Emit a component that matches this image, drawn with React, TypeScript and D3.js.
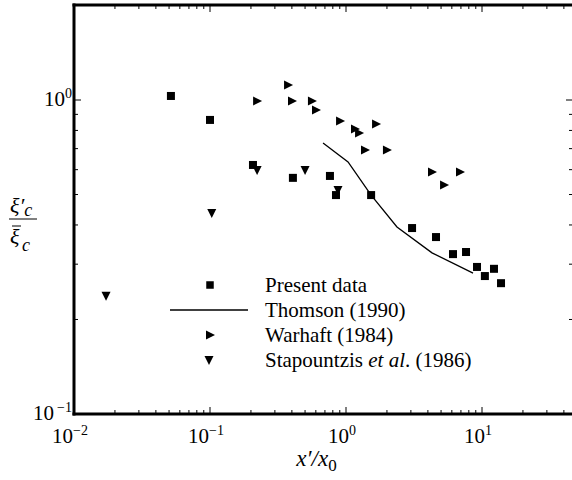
import React from "react";
import * as d3 from "d3";

const presentX = [0.0516, 0.1, 0.207, 0.407, 0.762, 0.844, 1.53, 3.06, 4.59, 6.12, 7.63, 9.19, 10.5, 12.25, 13.8];
const presentY = [1.03, 0.864, 0.621, 0.565, 0.573, 0.498, 0.498, 0.391, 0.366, 0.323, 0.328, 0.294, 0.275, 0.29, 0.261];

const thomsonX = [0.678, 1.035, 1.53, 2.37, 4.29, 8.59];
const thomsonY = [0.73, 0.635, 0.498, 0.394, 0.326, 0.281];

const warhaftX = [0.375, 0.222, 0.401, 0.562, 0.602, 0.904, 1.165, 1.247, 1.663, 1.379, 2.0, 4.29, 6.89, 5.26];
const warhaftY = [1.116, 0.993, 0.993, 0.993, 0.929, 0.857, 0.808, 0.785, 0.839, 0.693, 0.693, 0.59, 0.59, 0.536];

const stapX = [0.0172, 0.103, 0.222, 0.5, 0.873];
const stapY = [0.238, 0.437, 0.598, 0.598, 0.517];

const xMajor = [0.01, 0.1, 1, 10];
const xMajorExp = ["−2", "−1", "0", "1"];
const yMajor = [0.1, 1];
const yMajorExp = ["−1", "0"];

const legendLabels = ["Present data", "Thomson (1990)", "Warhaft (1984)", "Stapountzis et al. (1986)"];

const L = 74, R = 573, T = 5, B = 414;
const FONT = '"Liberation Serif", "Times New Roman", Times, serif';

export default function App() {
  const x = d3.scaleLog().domain([0.01, Math.pow(10, (R - L) / 136 - 2)]).range([L, R]);
  const y = d3.scaleLog().domain([0.1, Math.pow(10, (B - T) / 314 - 1)]).range([B, T]);

  const xTicks: number[] = [];
  for (let e = -2; e <= 1; e++) for (let k = 1; k <= 9; k++) {
    const v = k * Math.pow(10, e);
    if (v <= x.domain()[1]) xTicks.push(v);
  }
  const yTicks: number[] = [];
  for (let e = -1; e <= 0; e++) for (let k = 1; k <= 9; k++) {
    const v = k * Math.pow(10, e);
    if (v <= y.domain()[1]) yTicks.push(v);
  }
  const isMajor = (v: number) => Math.abs(Math.log10(v) - Math.round(Math.log10(v))) < 1e-6;

  const line = d3.line<number>().x((_, i) => x(thomsonX[i])).y((_, i) => y(thomsonY[i]));

  const sq = (cx: number, cy: number, s: number, key: any) => (
    <rect key={key} x={cx - s / 2} y={cy - s / 2} width={s} height={s} fill="#000" />
  );
  const rtri = (cx: number, cy: number, key: any) => (
    <path key={key} d={`M${cx - 4},${cy - 4.5}L${cx + 5},${cy}L${cx - 4},${cy + 4.5}Z`} fill="#000" />
  );
  const dtri = (cx: number, cy: number, key: any) => (
    <path key={key} d={`M${cx - 4.5},${cy - 4}L${cx + 4.5},${cy - 4}L${cx},${cy + 5}Z`} fill="#000" />
  );

  const legY = [285, 310, 335, 360];

  return (
    <svg width={572} height={480} style={{ position: "absolute", left: 0, top: 0, background: "#fff", fontFamily: FONT }}>
      <rect x={0} y={0} width={572} height={480} fill="#fff" />
      {xTicks.map((v, i) => {
        const len = isMajor(v) ? 7 : 4;
        return (
          <g key={"xt" + i} stroke="#000" strokeWidth={1}>
            <line x1={x(v)} x2={x(v)} y1={B} y2={B - len} />
            <line x1={x(v)} x2={x(v)} y1={T} y2={T + len} />
          </g>
        );
      })}
      {yTicks.map((v, i) => {
        const len = isMajor(v) ? 7 : 4;
        return (
          <g key={"yt" + i} stroke="#000" strokeWidth={1}>
            <line x1={L} x2={L + len} y1={y(v)} y2={y(v)} />
            <line x1={R} x2={R - len} y1={y(v)} y2={y(v)} />
          </g>
        );
      })}
      <line x1={L} x2={L} y1={T - 1.5} y2={B + 1.5} stroke="#000" strokeWidth={3} />
      <line x1={L - 1.5} x2={R} y1={T} y2={T} stroke="#000" strokeWidth={3} />
      <line x1={L - 1.5} x2={R} y1={B} y2={B} stroke="#000" strokeWidth={3} />
      <line x1={R} x2={R} y1={T} y2={B} stroke="#000" strokeWidth={2} />

      {xMajor.map((v, i) => (
        <text key={"xl" + i} x={x(v) - 4} y={443} fontSize={21} textAnchor="middle" style={{ fontFamily: FONT }}>
          10<tspan fontSize={14} dy={-8}>{xMajorExp[i]}</tspan>
        </text>
      ))}
      {yMajor.map((v, i) => (
        <text key={"yl" + i} x={72} y={y(v) + 6} fontSize={21} textAnchor="end" style={{ fontFamily: FONT }}>
          10<tspan fontSize={14} dy={-8} dx={i === 0 ? 3 : 0}>{yMajorExp[i]}</tspan>
        </text>
      ))}

      <text x={(L + R) / 2 - 7} y={466} fontSize={23} fontStyle="italic" textAnchor="middle" style={{ fontFamily: FONT }}>
        x′/x<tspan fontSize={17} dy={5} fontStyle="normal">0</tspan>
      </text>
      <g fontStyle="italic" style={{ fontFamily: FONT }}>
        <text x={10} y={213} fontSize={22}>ξ<tspan>′</tspan><tspan fontSize={18} dy={3}>c</tspan></text>
        <line x1={9} x2={37} y1={219} y2={219} stroke="#000" strokeWidth={1} />
        <line x1={12} x2={21} y1={226} y2={226} stroke="#000" strokeWidth={1} />
        <text x={10} y={244} fontSize={22}>ξ</text>
        <text x={22} y={251} fontSize={18}>c</text>
      </g>

      <path d={line(thomsonX) || ""} fill="none" stroke="#000" strokeWidth={1.3} />
      {presentX.map((v, i) => sq(x(v), y(presentY[i]), 8, "p" + i))}
      {warhaftX.map((v, i) => rtri(x(v), y(warhaftY[i]), "w" + i))}
      {stapX.map((v, i) => dtri(x(v), y(stapY[i]), "s" + i))}

      {sq(210, legY[0], 7.5, "lg0")}
      <line x1={170} x2={248} y1={legY[1]} y2={legY[1]} stroke="#000" strokeWidth={1.3} />
      {rtri(210, legY[2], "lg2")}
      {dtri(209, legY[3], "lg3")}
      {legendLabels.map((t, i) => (
        <text key={"lt" + i} x={265} y={legY[i] + 7} fontSize={21} style={{ fontFamily: FONT }}>
          {i === 3 ? (
            <>Stapountzis <tspan fontStyle="italic">et al</tspan>. (1986)</>
          ) : t}
        </text>
      ))}
    </svg>
  );
}
